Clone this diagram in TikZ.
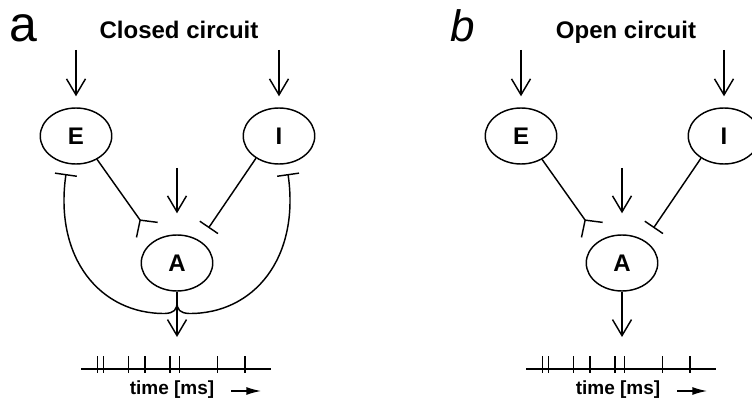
\documentclass[tikz,border=0pt]{standalone}
\usepackage{fontspec}
\setmainfont{Liberation Sans}
\usetikzlibrary{arrows.meta,shapes.geometric}
\begin{document}
\begin{tikzpicture}[x=1pt,y=-1pt,line width=1.45pt,
  cell/.style={ellipse,draw,minimum width=71.5pt,minimum height=56pt,inner sep=0pt,
    font=\fontsize{24}{24}\selectfont\bfseries},
  inp/.style={-{Straight Barb[length=16pt,width=19pt]}},
  exc/.style={-{Straight Barb[reversed,length=12pt,width=26pt]}},
  inh/.style={-{Bar[width=22pt]}},
  ttl/.style={anchor=base,font=\fontsize{24}{24}\selectfont\bfseries},
  tlab/.style={anchor=base,font=\fontsize{19}{19}\selectfont\bfseries},
  tarrow/.style={line width=1.6pt,-{Latex[length=15pt,width=8pt]}},
  plab/.style={anchor=base west,inner sep=0pt}]
\useasboundingbox (0,0) rectangle (752,403);

% ---------- panel a ----------
\node[plab,font=\fontsize{50}{50}\selectfont] (la) at (9,42) {a};
\node[ttl] (ta) at (179,39) {Closed circuit};
\node[cell] (E) at (76,136) {E};
\node[cell] (I) at (279,136) {I};
\node[cell] (A) at (177,263) {A};
\coordinate (inE) at (76,50);
\coordinate (inI) at (279,50);
\coordinate (inA) at (177,168);
\draw[inp] (inE) -- ([yshift=11pt]E.north);
\draw[inp] (inI) -- ([yshift=11pt]I.north);
\draw[inp] (inA) -- ([yshift=21pt]A.north);
\coordinate (eA) at (147.5,230.5);
\coordinate (iA) at (208.5,228);
\draw[exc] (E.312) -- (eA);
\draw[inh] (I.224) -- (iA);
\coordinate (out) at (177,337);
\draw[inp] (A.south) -- (out);
\coordinate (J) at (177,302);
\coordinate (fE) at (66,174);
\coordinate (fI) at (288,174);
\draw[inh] (J) .. controls (177,310) and (174,313) .. (165,313.5)
  .. controls (100,314) and (54,258) .. (fE);
\draw[inh] (J) .. controls (177,310) and (180,313) .. (189,313.5)
  .. controls (254,314) and (300,258) .. (fI);
\coordinate (sa0) at (81,369);
\coordinate (sa1) at (271,369);
\draw (sa0) -- (sa1);
\foreach \t in {97.3,103.3,128.3,145,170,179.3,217.7,245}
  \draw (\t,356) -- (\t,373);
\node[tlab] (tma) at (172,394) {time [ms]};
\draw[tarrow] ([xshift=13pt,yshift=3pt]tma.base east) -- ++(30,0);

% ---------- panel b ----------
\begin{scope}[xshift=445pt]
\node[plab,font=\fontsize{44}{44}\selectfont\itshape] (lb) at (5,42) {b};
\node[ttl] (tb) at (181,39) {Open circuit};
\node[cell] (E2) at (76,136) {E};
\node[cell] (I2) at (279,136) {I};
\node[cell] (A2) at (177,263) {A};
\coordinate (inE2) at (76,50);
\coordinate (inI2) at (279,50);
\coordinate (inA2) at (177,168);
\draw[inp] (inE2) -- ([yshift=11pt]E2.north);
\draw[inp] (inI2) -- ([yshift=11pt]I2.north);
\draw[inp] (inA2) -- ([yshift=21pt]A2.north);
\coordinate (eA2) at (147.5,230.5);
\coordinate (iA2) at (208.5,228);
\draw[exc] (E2.312) -- (eA2);
\draw[inh] (I2.224) -- (iA2);
\coordinate (out2) at (177,337);
\draw[inp] (A2.south) -- (out2);
\coordinate (sb0) at (81,369);
\coordinate (sb1) at (271,369);
\draw (sb0) -- (sb1);
\foreach \t in {97.3,103.3,128.3,145,170,179.3,217.7,245}
  \draw (\t,356) -- (\t,373);
\node[tlab] (tmb) at (173,394) {time [ms]};
\draw[tarrow] ([xshift=13pt,yshift=3pt]tmb.base east) -- ++(30,0);
\end{scope}
\end{tikzpicture}
\end{document}
